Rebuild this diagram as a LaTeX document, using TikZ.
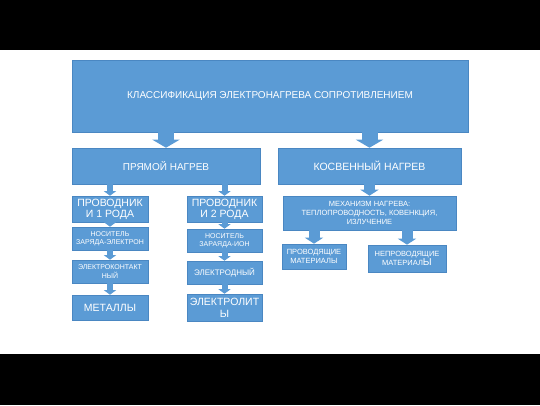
\documentclass[tikz,border=0pt]{standalone}
\usepackage{fontspec}
\setmainfont{Liberation Sans}
\usetikzlibrary{arrows.meta}
\definecolor{boxblue}{HTML}{5B9BD5}
\definecolor{boxline}{HTML}{4A87C2}

\begin{document}
\begin{tikzpicture}[x=1pt,y=-1pt,
        blk/.style={draw=boxline, fill=boxblue, text=white, align=center, inner sep=1pt, line width=0.6pt},
        bigarr/.style={-{Triangle[width=27pt,length=8pt]}, line width=16pt, draw=boxblue},
        midarr/.style={-{Triangle[width=18pt,length=6pt]}, line width=11pt, draw=boxblue},
        smallarr/.style={-{Triangle[width=12pt,length=4.5pt]}, line width=6pt, draw=boxblue}]
        \useasboundingbox (0,0) rectangle (540,405);
        \fill[black] (0,0) rectangle (540,50);
        \fill[black] (0,354) rectangle (540,405);

        \node[blk, minimum width=396pt, minimum height=72pt, font=\fontsize{10}{12}\selectfont] (klass) at (270,96) {КЛАССИФИКАЦИЯ ЭЛЕКТРОНАГРЕВА СОПРОТИВЛЕНИЕМ};
        \node[blk, minimum width=188pt, minimum height=36pt, font=\fontsize{10}{12}\selectfont] (direct) at (166,166) {ПРЯМОЙ НАГРЕВ};
        \node[blk, minimum width=183pt, minimum height=36pt, font=\fontsize{10.5}{12}\selectfont] (indirect) at (369.5,166) {КОСВЕННЫЙ НАГРЕВ};

        % left column
        \node[blk, minimum width=76pt, minimum height=26pt, font=\fontsize{10.5}{11}\selectfont] (cond1) at (110,209) {ПРОВОДНИК\\И 1 РОДА};
        \node[blk, minimum width=76pt, minimum height=23pt, font=\fontsize{7}{8.5}\selectfont] (carr1) at (110,238.5) {НОСИТЕЛЬ\\ЗАРЯДА-ЭЛЕКТРОН};
        \node[blk, minimum width=76pt, minimum height=23pt, font=\fontsize{7}{8.5}\selectfont] (contact) at (110,271.5) {ЭЛЕКТРОКОНТАКТ\\НЫЙ};
        \node[blk, minimum width=76pt, minimum height=25pt, font=\fontsize{10.5}{12}\selectfont] (metals) at (110,307.5) {МЕТАЛЛЫ};

        % right column
        \node[blk, minimum width=75pt, minimum height=26pt, font=\fontsize{10.5}{11}\selectfont] (cond2) at (224.5,209) {ПРОВОДНИК\\И 2 РОДА};
        \node[blk, minimum width=75pt, minimum height=23pt, font=\fontsize{7}{8.5}\selectfont] (carr2) at (224.5,240.5) {НОСИТЕЛЬ\\ЗАРАЯДА-ИОН};
        \node[blk, minimum width=75pt, minimum height=23pt, font=\fontsize{8}{9}\selectfont] (electrode) at (224.5,272.5) {ЭЛЕКТРОДНЫЙ};
        \node[blk, minimum width=75pt, minimum height=27pt, font=\fontsize{10.5}{12}\selectfont] (electrolyte) at (224.5,307.5) {ЭЛЕКТРОЛИТ\\Ы};

        % indirect branch
        \node[blk, minimum width=173pt, minimum height=34pt, font=\fontsize{7.5}{9}\selectfont] (mech) at (369.5,213) {МЕХАНИЗМ НАГРЕВА:\\ТЕПЛОПРОВОДНОСТЬ, КОВЕНКЦИЯ,\\ИЗЛУЧЕНИЕ};
        \node[blk, minimum width=64pt, minimum height=25pt, font=\fontsize{7.5}{9}\selectfont] (condmat) at (314,256.5) {ПРОВОДЯЩИЕ\\МАТЕРИАЛЫ};
        \node[blk, minimum width=78pt, minimum height=27pt, font=\fontsize{7.5}{9}\selectfont] (noncondmat) at (407,258.5) {НЕПРОВОДЯЩИЕ\\МАТЕРИАЛ{\fontsize{10}{9}\selectfont Ы}};

        \draw[bigarr] ([yshift=1pt]klass.south -| direct.north) -- (direct.north);
        \draw[bigarr] ([yshift=1pt]klass.south -| indirect.north) -- (indirect.north);
        \draw[smallarr] ([yshift=2pt]direct.south -| cond1.north) -- (cond1.north);
        \draw[smallarr] ([yshift=2pt]direct.south -| cond2.north) -- (cond2.north);
        \draw[smallarr] ([yshift=2pt]cond1.south) -- (carr1.north);
        \draw[smallarr] ([yshift=2pt]carr1.south) -- (contact.north);
        \draw[smallarr] ([yshift=2pt]contact.south) -- (metals.north);
        \draw[smallarr] ([yshift=2pt]cond2.south) -- (carr2.north);
        \draw[smallarr] ([yshift=2pt]carr2.south) -- (electrode.north);
        \draw[smallarr] ([yshift=2pt]electrode.south) -- (electrolyte.north);
        \draw[midarr] ([yshift=2pt]indirect.south) -- (mech.north);
        \draw[midarr] ([yshift=2pt]mech.south -| condmat.north) -- (condmat.north);
        \draw[midarr] ([yshift=2pt]mech.south -| noncondmat.north) -- (noncondmat.north);
\end{tikzpicture}
\end{document}
